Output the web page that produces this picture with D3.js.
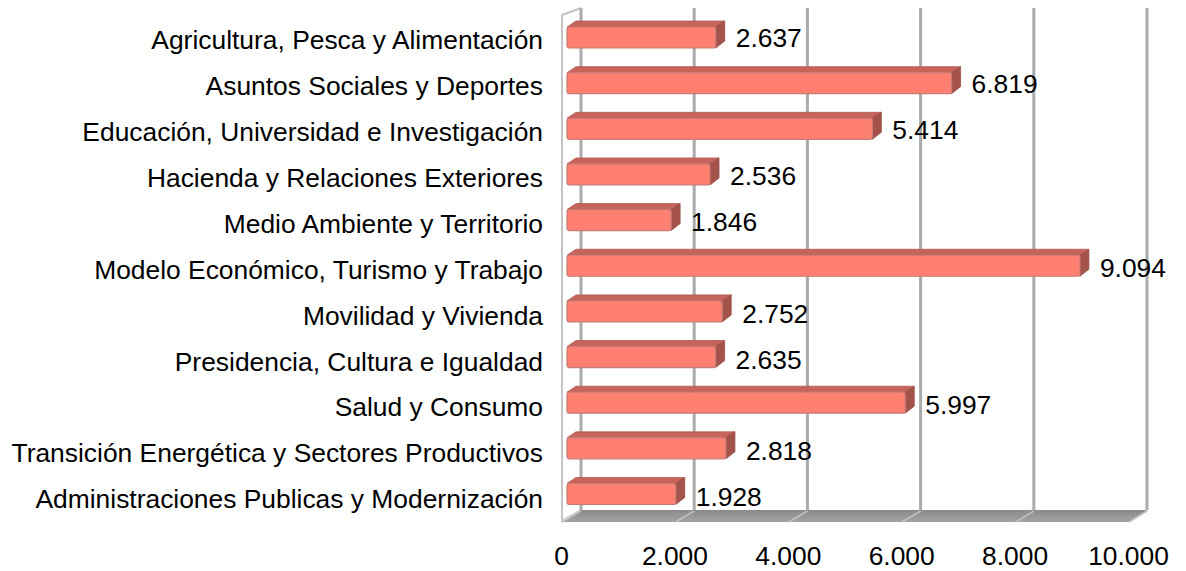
<!DOCTYPE html>
<html>
<head>
<meta charset="utf-8">
<script src="https://cdn.jsdelivr.net/npm/d3@7"></script>
<style>
  html, body { margin: 0; padding: 0; background: #fff; }
  svg { display: block; font-family: "Liberation Sans", Arial, sans-serif; }
</style>
</head>
<body>
<svg id="chart" width="1186" height="571"></svg>
<script>
const categories = [
  "Agricultura, Pesca y Alimentación",
  "Asuntos Sociales y Deportes",
  "Educación, Universidad e Investigación",
  "Hacienda y Relaciones Exteriores",
  "Medio Ambiente y Territorio",
  "Modelo Económico, Turismo y Trabajo",
  "Movilidad y Vivienda",
  "Presidencia, Cultura e Igualdad",
  "Salud y Consumo",
  "Transición Energética y Sectores Productivos",
  "Administraciones Publicas y Modernización"
];
const values = [2637, 6819, 5414, 2536, 1846, 9094, 2752, 2635, 5997, 2818, 1928];
const ticks = [0, 2000, 4000, 6000, 8000, 10000];

const locale = d3.formatLocale({decimal: ",", thousands: ".", grouping: [3], currency: ["", "€"]});
const fmt = locale.format(",");

const svg = d3.select("#chart");
const FS = 26.4;

// geometry
const xBack = d3.scaleLinear().domain([0, 10000]).range([581, 1147]);
const xFloor = d3.scaleLinear().domain([0, 10000]).range([562, 1129]);
const xBar = d3.scaleLinear().domain([0, 10000]).range([567, 1131]);
const yBar = d3.scaleBand().domain(categories).range([14.7, 516.8]);
const yLab = d3.scaleBand().domain(categories).range([17, 522]);

const wallTop = 8, floorBack = 510, floorFront = 522;
const leftTop = 15;

// left wall outline
svg.append("path")
  .attr("d", `M${xFloor(0)},${floorFront} L${xFloor(0)},${leftTop} L${xBack(0)},${wallTop}`)
  .attr("fill", "none").attr("stroke", "#c4c4c4").attr("stroke-width", 2);
svg.append("path")
  .attr("d", `M${xFloor(0)},${floorFront - 2} L${xBack(0)},${floorBack}`)
  .attr("fill", "none").attr("stroke", "#d6d6d6").attr("stroke-width", 1.5);

// back wall gridlines
svg.append("g").selectAll("line").data(ticks).join("line")
  .attr("x1", d => xBack(d)).attr("x2", d => xBack(d))
  .attr("y1", wallTop).attr("y2", floorBack)
  .attr("stroke", "#ababab").attr("stroke-width", 3);

// floor
const defs = svg.append("defs");
const fg = defs.append("linearGradient").attr("id", "floorGrad").attr("x1", 0).attr("y1", 0).attr("x2", 0).attr("y2", 1);
fg.append("stop").attr("offset", "0%").attr("stop-color", "#8a8a8a");
fg.append("stop").attr("offset", "100%").attr("stop-color", "#a4a4a4");
svg.append("path")
  .attr("d", `M${xBack(0)},${floorBack} L${xBack(10000)},${floorBack} L${xFloor(10000)},${floorFront} L${xFloor(0)},${floorFront} Z`)
  .attr("fill", "url(#floorGrad)");
svg.append("g").selectAll("line").data(ticks).join("line")
  .attr("x1", d => xBack(d)).attr("x2", d => xFloor(d))
  .attr("y1", floorBack + 1).attr("y2", floorFront)
  .attr("stroke", "#c0c0c0").attr("stroke-width", 1.5);

// bars
const bh = 21, ddx = 9, ddy = -6;
const bars = svg.append("g").selectAll("g").data(categories).join("g");
bars.each(function(c, i) {
  const g = d3.select(this);
  const x0 = xBar(0), x1 = xBar(values[i]);
  const yc = yBar(c) + yBar.bandwidth() / 2;
  const top = yc - bh / 2, bot = yc + bh / 2;
  g.append("path")
    .attr("d", `M${x0},${top} L${x0 + ddx},${top + ddy} L${x1 + ddx},${top + ddy} L${x1},${top} Z`)
    .attr("fill", "#c6635a").attr("stroke", "#b35a52").attr("stroke-width", 0.8).attr("stroke-linejoin", "round");
  g.append("path")
    .attr("d", `M${x1},${top} L${x1 + ddx},${top + ddy} L${x1 + ddx},${bot + ddy - 1} L${x1},${bot} Z`)
    .attr("fill", "#a4534b").attr("stroke", "#9a4e47").attr("stroke-width", 0.8).attr("stroke-linejoin", "round");
  g.append("rect")
    .attr("x", x0).attr("y", top).attr("width", x1 - x0).attr("height", bh)
    .attr("rx", 2.5)
    .attr("fill", "#ff7f70").attr("stroke", "#c77d75").attr("stroke-width", 1.2);
});

// value labels
svg.append("g").selectAll("text").data(categories).join("text")
  .attr("x", (c, i) => xBar(values[i]) + ddx + 11)
  .attr("y", c => yLab(c) + yLab.bandwidth() / 2 - 2)
  .attr("dy", "0.35em")
  .attr("font-size", FS).attr("fill", "#000")
  .text((c, i) => fmt(values[i]));

// category labels
svg.append("g").selectAll("text").data(categories).join("text")
  .attr("x", 543)
  .attr("y", c => yLab(c) + yLab.bandwidth() / 2)
  .attr("dy", "0.35em")
  .attr("text-anchor", "end")
  .attr("font-size", FS).attr("fill", "#000")
  .text(c => c);

// x axis tick labels
const axis = d3.axisBottom(xFloor).tickValues(ticks).tickSize(0).tickFormat(d => fmt(d));
const ag = svg.append("g").attr("transform", "translate(-1,556)").call(axis);
ag.select(".domain").remove();
ag.selectAll("text").attr("y", 0).attr("dy", "0.35em")
  .attr("font-size", FS).attr("font-family", "Liberation Sans, Arial, sans-serif").attr("fill", "#000");
</script>
</body>
</html>
